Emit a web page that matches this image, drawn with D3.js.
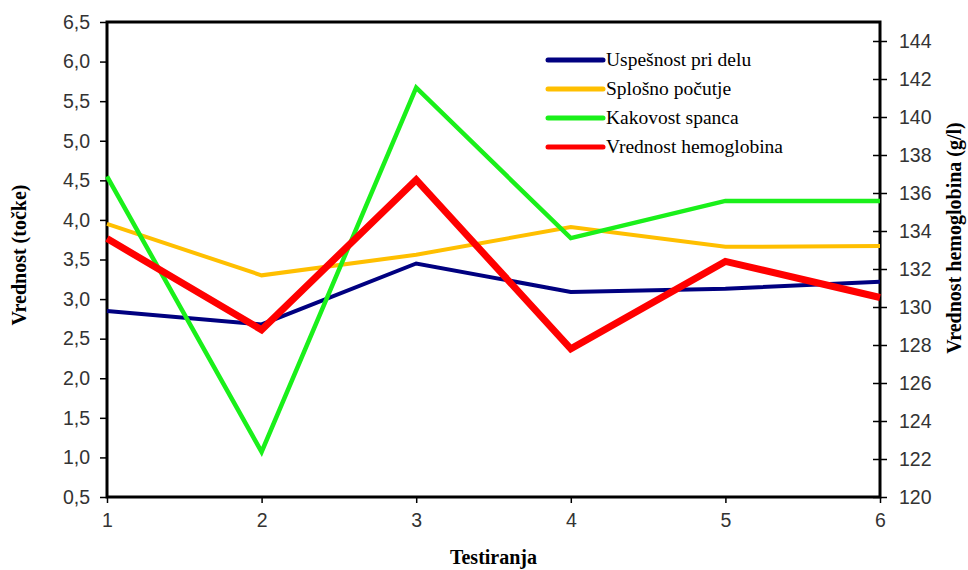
<!DOCTYPE html>
<html>
<head>
<meta charset="utf-8">
<script src="https://cdn.jsdelivr.net/npm/d3@7"></script>
<style>
  body { margin: 0; background: #fff; }
  .tick text { font-family: "Liberation Sans", Arial, sans-serif; font-size: 19.5px; fill: #333; }
  .serif { font-family: "Liberation Serif", "Times New Roman", "DejaVu Serif", serif; }
  .title { font-weight: bold; font-size: 20px; }
</style>
</head>
<body>
<svg id="chart"></svg>
<script>
// chart size
const width = 968;
const height = 570;

// data
const tests = [1, 2, 3, 4, 5, 6];
const uspesnost = [2.85, 2.68, 3.45, 3.09, 3.13, 3.22];
const splosno = [3.95, 3.30, 3.56, 3.91, 3.66, 3.67];
const kakovost = [4.55, 1.07, 5.67, 3.77, 4.24, 4.24];
const hemoglobin = [133.6, 128.8, 136.7, 127.8, 132.4, 130.5];
const leftTicks = [0.5, 1, 1.5, 2, 2.5, 3, 3.5, 4, 4.5, 5, 5.5, 6, 6.5];
const rightTicks = [120, 122, 124, 126, 128, 130, 132, 134, 136, 138, 140, 142, 144];

const margin = { top: 22, right: 88, bottom: 73, left: 107 };

const svg = d3.select("#chart")
    .attr("width", width)
    .attr("height", height);

const x = d3.scaleLinear().domain([1, 6]).range([margin.left, width - margin.right]);
const yL = d3.scaleLinear().domain([0.5, 6.5]).range([height - margin.bottom, margin.top]);
const yR = d3.scaleLinear().domain([120, 145]).range([height - margin.bottom, margin.top]);

const fmt = d3.format(".1f");

// left axis
const gL = svg.append("g")
    .attr("transform", `translate(${margin.left},0)`)
    .call(d3.axisLeft(yL).tickValues(leftTicks).tickSize(7).tickPadding(10)
        .tickFormat(d => fmt(d).replace(".", ",")));
gL.select(".domain").remove();

// right axis, ticks cross the line
const gR = svg.append("g")
    .attr("transform", `translate(${width - margin.right},0)`)
    .call(d3.axisRight(yR).tickValues(rightTicks).tickSize(7).tickPadding(12));
gR.select(".domain").remove();
gR.selectAll(".tick line").attr("x1", -7);

// bottom axis
const gX = svg.append("g")
    .attr("transform", `translate(0,${height - margin.bottom})`)
    .call(d3.axisBottom(x).tickValues(tests).tickSize(6).tickPadding(10).tickFormat(d3.format("d")));
gX.select(".domain").remove();

svg.selectAll(".tick line").attr("stroke", "#000").attr("stroke-width", 1.5);

// frame round the plot
svg.append("rect")
    .attr("x", margin.left)
    .attr("y", margin.top)
    .attr("width", width - margin.left - margin.right)
    .attr("height", height - margin.top - margin.bottom)
    .attr("fill", "none")
    .attr("stroke", "#000")
    .attr("stroke-width", 3);

const series = [
    { name: "Uspešnost pri delu", values: uspesnost, color: "#000080", w: 4, y: yL },
    { name: "Splošno počutje", values: splosno, color: "#FFBF00", w: 4, y: yL },
    { name: "Kakovost spanca", values: kakovost, color: "#1AF01A", w: 4.5, y: yL },
    { name: "Vrednost hemoglobina", values: hemoglobin, color: "#FF0000", w: 7, y: yR }
];

series.forEach(s => {
    const line = d3.line()
        .x((d, i) => x(tests[i]))
        .y(d => s.y(d));
    svg.append("path")
        .datum(s.values)
        .attr("d", line)
        .attr("fill", "none")
        .attr("stroke", s.color)
        .attr("stroke-width", s.w)
        .attr("stroke-linejoin", "miter");
});

// legend
const legend = svg.append("g").attr("transform", "translate(548,60)");
series.forEach((s, i) => {
    const row = legend.append("g").attr("transform", `translate(0,${i * 29})`);
    row.append("line")
        .attr("x1", 0).attr("x2", 55)
        .attr("stroke", s.color)
        .attr("stroke-width", 5)
        .attr("stroke-linecap", "round");
    row.append("text")
        .attr("class", "serif")
        .attr("x", 58).attr("y", 6)
        .style("font-size", "19.5px")
        .text(s.name);
});

// axis titles
svg.append("text")
    .attr("class", "serif title")
    .attr("transform", "translate(26,255) rotate(-90)")
    .attr("text-anchor", "middle")
    .text("Vrednost (točke)");

svg.append("text")
    .attr("class", "serif title")
    .attr("transform", "translate(961,238) rotate(-90)")
    .attr("text-anchor", "middle")
    .text("Vrednost hemoglobina (g/l)");

svg.append("text")
    .attr("class", "serif title")
    .attr("x", (margin.left + width - margin.right) / 2)
    .attr("y", 564)
    .attr("text-anchor", "middle")
    .text("Testiranja");
</script>
</body>
</html>
